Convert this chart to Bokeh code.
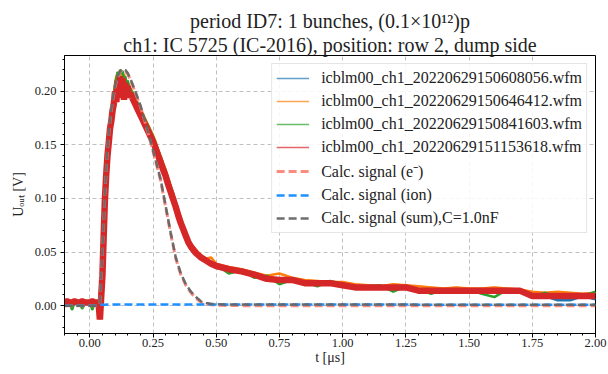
from bokeh.plotting import figure
from bokeh.models import (Range1d, FixedTicker, NumeralTickFormatter, Legend,
                          LegendItem, Title)
from bokeh.embed import file_html
from bokeh.resources import INLINE

# ---------------- data ----------------
T_MEAS = [-0.10, -0.09, -0.08, -0.07, -0.06, -0.05, -0.04, -0.03, -0.02, -0.01,
          0.00, 0.01, 0.02, 0.03, 0.035, 0.04, 0.045, 0.05, 0.055, 0.06,
          0.065, 0.07, 0.075, 0.08, 0.085, 0.09, 0.095, 0.10, 0.105, 0.11,
          0.115, 0.12, 0.125, 0.13, 0.135, 0.14, 0.145, 0.15, 0.155, 0.16,
          0.17, 0.18, 0.19, 0.20, 0.21, 0.22, 0.23, 0.24, 0.25, 0.26,
          0.27, 0.28, 0.29, 0.30, 0.31, 0.32, 0.33, 0.34, 0.35, 0.36,
          0.37, 0.38, 0.39, 0.40, 0.42, 0.44, 0.46, 0.48, 0.50, 0.55,
          0.60, 0.65, 0.70, 0.75, 0.80, 0.85, 0.90, 0.95, 1.00, 1.05,
          1.10, 1.15, 1.20, 1.25, 1.30, 1.35, 1.40, 1.45, 1.50, 1.55,
          1.60, 1.65, 1.70, 1.75, 1.80, 1.85, 1.90, 1.95, 2.00]

WFM_608056 = [0.003, 0.003, 0.002, 0.003, 0.003, 0.002, 0.003, 0.003, 0.002, 0.003,
              0.002, 0.003, 0.003, 0.002, 0.002, -0.008, 0.009, 0.030, 0.068, 0.103,
              0.125, 0.143, 0.155, 0.167, 0.175, 0.184, 0.190, 0.202, 0.206, 0.210,
              0.208, 0.212, 0.210, 0.212, 0.206, 0.209, 0.204, 0.206, 0.200, 0.200,
              0.195, 0.190, 0.185, 0.180, 0.175, 0.170, 0.165, 0.160, 0.155, 0.149,
              0.142, 0.136, 0.129, 0.123, 0.115, 0.108, 0.101, 0.094, 0.086, 0.079,
              0.072, 0.066, 0.060, 0.055, 0.050, 0.045, 0.042, 0.039, 0.036, 0.033,
              0.031, 0.028, 0.024, 0.023, 0.023, 0.020, 0.020, 0.020, 0.018, 0.017,
              0.016, 0.016, 0.016, 0.016, 0.013, 0.013, 0.013, 0.013, 0.013, 0.013,
              0.013, 0.013, 0.013, 0.009, 0.009, 0.005, 0.005, 0.009, 0.006]

WFM_646412 = [0.004, 0.004, 0.005, 0.004, 0.004, 0.005, 0.004, 0.004, 0.005, 0.004,
              0.004, 0.005, 0.004, 0.004, 0.003, 0.000, 0.011, 0.034, 0.074, 0.108,
              0.130, 0.147, 0.159, 0.171, 0.179, 0.189, 0.197, 0.208, 0.214, 0.216,
              0.218, 0.215, 0.219, 0.214, 0.216, 0.212, 0.210, 0.208, 0.206, 0.202,
              0.199, 0.194, 0.189, 0.184, 0.179, 0.174, 0.169, 0.164, 0.159, 0.153,
              0.146, 0.140, 0.133, 0.127, 0.119, 0.112, 0.105, 0.097, 0.089, 0.082,
              0.075, 0.069, 0.063, 0.058, 0.052, 0.047, 0.044, 0.045, 0.039, 0.036,
              0.034, 0.031, 0.028, 0.030, 0.026, 0.024, 0.023, 0.022, 0.022, 0.020,
              0.019, 0.018, 0.020, 0.019, 0.018, 0.017, 0.016, 0.017, 0.016, 0.016,
              0.017, 0.016, 0.015, 0.013, 0.012, 0.013, 0.012, 0.011, 0.012]

WFM_841603 = [0.003, 0.002, 0.003, -0.004, 0.003, 0.002, 0.003, -0.003, 0.003, 0.002,
              0.003, -0.004, 0.003, 0.004, 0.002, -0.002, 0.010, 0.032, 0.072, 0.106,
              0.128, 0.146, 0.157, 0.169, 0.177, 0.187, 0.195, 0.206, 0.212, 0.218,
              0.214, 0.220, 0.216, 0.219, 0.212, 0.214, 0.208, 0.210, 0.205, 0.203,
              0.198, 0.193, 0.188, 0.183, 0.178, 0.173, 0.168, 0.163, 0.158, 0.152,
              0.145, 0.139, 0.132, 0.126, 0.118, 0.111, 0.104, 0.096, 0.088, 0.081,
              0.074, 0.068, 0.062, 0.057, 0.051, 0.046, 0.043, 0.040, 0.038, 0.030,
              0.033, 0.026, 0.028, 0.020, 0.024, 0.022, 0.018, 0.023, 0.020, 0.016,
              0.018, 0.019, 0.013, 0.018, 0.015, 0.011, 0.015, 0.013, 0.015, 0.011,
              0.008, 0.015, 0.013, 0.008, 0.012, 0.008, 0.010, 0.009, 0.013]

WFM_1153618 = [0.003, 0.004, 0.003, 0.003, 0.004, 0.003, 0.003, 0.004, 0.003, 0.003,
               0.003, 0.004, 0.003, 0.003, 0.002, -0.013, 0.008, 0.028, 0.065, 0.100,
               0.122, 0.140, 0.152, 0.165, 0.172, 0.182, 0.188, 0.200, 0.190, 0.210,
               0.194, 0.214, 0.196, 0.212, 0.192, 0.208, 0.196, 0.205, 0.194, 0.198,
               0.193, 0.188, 0.183, 0.178, 0.173, 0.168, 0.163, 0.158, 0.153, 0.147,
               0.140, 0.134, 0.127, 0.121, 0.113, 0.106, 0.099, 0.092, 0.084, 0.077,
               0.071, 0.065, 0.059, 0.055, 0.049, 0.045, 0.042, 0.039, 0.037, 0.034,
               0.032, 0.029, 0.025, 0.024, 0.024, 0.021, 0.021, 0.021, 0.019, 0.017,
               0.017, 0.017, 0.017, 0.017, 0.014, 0.014, 0.014, 0.014, 0.014, 0.014,
               0.014, 0.014, 0.014, 0.009, 0.009, 0.009, 0.009, 0.009, 0.009]

T_CALC = [-0.10, 0.00, 0.03, 0.04, 0.05, 0.06, 0.07, 0.08, 0.09, 0.10,
          0.11, 0.12, 0.13, 0.14, 0.15, 0.16, 0.18, 0.20, 0.22, 0.24,
          0.26, 0.28, 0.30, 0.32, 0.34, 0.36, 0.38, 0.40, 0.42, 0.44,
          0.46, 0.48, 0.50, 0.55, 0.60, 0.70, 0.80, 1.00, 1.50, 2.00]

CALC_E = [0.0, 0.0, 0.0, 0.002, 0.050, 0.105, 0.145, 0.172, 0.191, 0.204,
          0.213, 0.218, 0.220, 0.219, 0.216, 0.211, 0.199, 0.186, 0.170, 0.153,
          0.135, 0.117, 0.092, 0.067, 0.044, 0.029, 0.019, 0.012, 0.007, 0.003,
          0.0015, 0.0008, 0.0004, 0.0001, 0.0, 0.0, 0.0, 0.0, 0.0, 0.0]

CALC_ION = [0.0, 0.0, 0.0, 0.0005, 0.0008, 0.0009, 0.001, 0.001, 0.001, 0.001,
            0.001, 0.001, 0.001, 0.001, 0.001, 0.001, 0.001, 0.001, 0.001, 0.001,
            0.001, 0.001, 0.001, 0.001, 0.001, 0.001, 0.001, 0.001, 0.001, 0.001,
            0.001, 0.001, 0.001, 0.001, 0.001, 0.001, 0.001, 0.001, 0.0009, 0.0009]

CALC_SUM = [e + i for e, i in zip(CALC_E, CALC_ION)]

LABELS = ["icblm00_ch1_20220629150608056.wfm",
          "icblm00_ch1_20220629150646412.wfm",
          "icblm00_ch1_20220629150841603.wfm",
          "icblm00_ch1_20220629151153618.wfm",
          "Calc. signal (e\u207b)",
          "Calc. signal (ion)",
          "Calc. signal (sum),C=1.0nF"]

X_TICKS = [0.0, 0.25, 0.5, 0.75, 1.0, 1.25, 1.5, 1.75, 2.0]
Y_TICKS = [0.0, 0.05, 0.10, 0.15, 0.20]

TITLE_1 = "period ID7: 1 bunches, (0.1\u00d710\u00b9\u00b2)p"
TITLE_2 = "ch1: IC 5725 (IC-2016), position: row 2, dump side"
X_LABEL = "t [\u03bcs]"
Y_LABEL = "U\u2092\u1d64\u209c [V]"

# ---------------- figure ----------------
SERIF = "Liberation Serif"
TXT = "#222222"

p = figure(width=608, height=374, output_backend="svg", toolbar_location=None,
           x_range=Range1d(-0.1, 2.0), y_range=Range1d(-0.026, 0.2334),
           min_border_left=64, min_border_right=13, min_border_top=55,
           min_border_bottom=41)
p.background_fill_color = "white"
p.border_fill_color = "white"
p.outline_line_color = "black"
p.outline_line_width = 1
p.outline_line_alpha = 1

t2 = Title(text=TITLE_2, align="center", text_font=SERIF, text_font_size="20px",
           text_font_style="normal", text_color=TXT, standoff=0)
t1 = Title(text=TITLE_1, align="center", text_font=SERIF, text_font_size="20px",
           text_font_style="normal", text_color=TXT, standoff=0)
p.add_layout(t2, "above")
p.add_layout(t1, "above")

colors = ["#1f77b4", "#ff7f0e", "#2ca02c", "#d62728"]
series = [WFM_608056, WFM_646412, WFM_841603, WFM_1153618]

# thin copies used as legend glyphs (hidden under the thick traces)
proxies = [p.line(T_MEAS, s, line_color=c, line_width=1.6, line_alpha=0.7)
           for c, s in zip(colors, series)]
widths = [2.5, 2.5, 2.5, 6.5]
for c, s, w in zip(colors, series, widths):
    p.line(T_MEAS, s, line_color=c, line_width=w)

r_e = p.line(T_CALC, CALC_E, line_color="salmon", line_width=3, line_dash="8 4", line_alpha=0.9)
r_i = p.line(T_CALC, CALC_ION, line_color="#1e90ff", line_width=2.5, line_dash="8 4")
r_s = p.line(T_CALC, CALC_SUM, line_color="#666666", line_width=2.5, line_dash="8 4", line_alpha=0.95)

items = [LegendItem(label=LABELS[i], renderers=[proxies[i]]) for i in range(4)]
items += [LegendItem(label=LABELS[4], renderers=[r_e]),
          LegendItem(label=LABELS[5], renderers=[r_i]),
          LegendItem(label=LABELS[6], renderers=[r_s])]
legend = Legend(items=items, location="top_right",
                label_text_font=SERIF, label_text_font_size="16px",
                label_text_color=TXT,
                glyph_width=33, glyph_height=20, label_height=20,
                label_standoff=12, spacing=3, padding=4, margin=8,
                border_line_color="#cccccc", border_line_width=1,
                background_fill_color="white", background_fill_alpha=0.85)
p.add_layout(legend)

# axes
p.xaxis.ticker = FixedTicker(ticks=X_TICKS,
                             minor_ticks=[round(-0.1 + 0.05 * k, 3) for k in range(43)])
p.yaxis.ticker = FixedTicker(ticks=Y_TICKS,
                             minor_ticks=[round(-0.02 + 0.01 * k, 3) for k in range(26)])
p.xaxis.formatter = NumeralTickFormatter(format="0.00")
p.yaxis.formatter = NumeralTickFormatter(format="0.00")
p.xaxis.axis_label = X_LABEL
p.yaxis.axis_label = Y_LABEL
for ax in (p.xaxis, p.yaxis):
    ax.axis_line_color = "black"
    ax.axis_line_width = 1
    ax.major_tick_line_color = "black"
    ax.minor_tick_line_color = "black"
    ax.major_tick_out = 4
    ax.major_tick_in = 0
    ax.minor_tick_out = 2
    ax.minor_tick_in = 0
    ax.major_label_text_font = SERIF
    ax.major_label_text_font_size = "12.5px"
    ax.major_label_text_color = TXT
    ax.axis_label_text_font = SERIF
    ax.axis_label_text_font_size = "14px"
    ax.axis_label_text_font_style = "normal"
    ax.axis_label_text_color = TXT
p.xaxis.major_label_standoff = 1
p.xaxis.axis_label_standoff = 0
p.yaxis.major_label_standoff = 4
p.yaxis.axis_label_standoff = 6

p.grid.grid_line_color = "#b0b0b0"
p.grid.grid_line_width = 0.8
p.grid.grid_line_dash = "4 3"

open("out.html", "w").write(file_html(p, INLINE))
